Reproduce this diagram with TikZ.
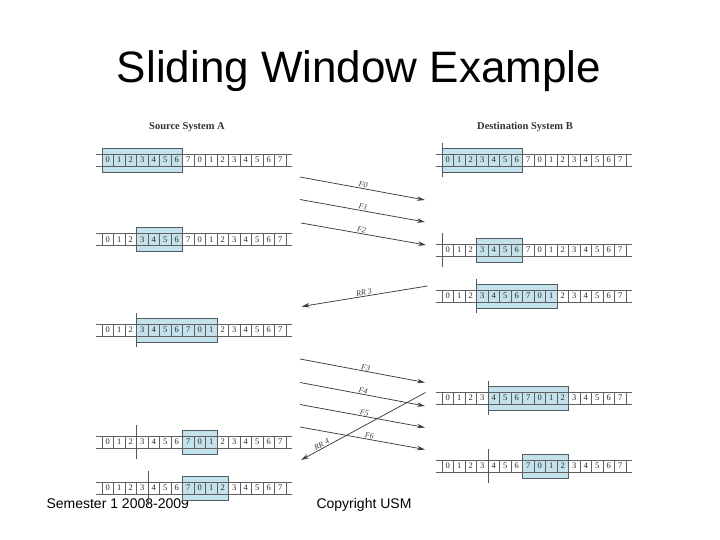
\documentclass[tikz,border=0pt]{standalone}
\usepackage{fontspec}
\setmainfont{Liberation Serif}
\newfontfamily\arialfont{Liberation Sans}
\usetikzlibrary{arrows.meta}
\definecolor{winfill}{RGB}{195,226,236}
\definecolor{boxgray}{RGB}{80,92,98}
\definecolor{linegray}{RGB}{95,95,95}
\definecolor{digitgray}{RGB}{40,40,40}
\definecolor{arrowgray}{RGB}{60,60,60}

\newcommand\seqstrip[3]{%
  \foreach \i in {0,...,15}{%
    \pgfmathtruncatemacro\dg{mod(\i,8)}%
    \draw[cellrule] ({#1+\i*11.5},{#2-6}) -- ({#1+\i*11.5},{#2+6});%
    \node[digitnode] (#3-\i) at ({#1+(\i+0.5)*11.5},#2) {\dg};%
  }%
  \draw[cellrule] ({#1+184},{#2-6}) -- ({#1+184},{#2+6});%
  \draw[striprule] ({#1-6},{#2-6}) -- ({#1+190},{#2-6});%
  \draw[striprule] ({#1-6},{#2+6}) -- ({#1+190},{#2+6});%
}
\newcommand\winrect[4]{%
  \draw[winfillbox] ({#1+#3*11.5},{#2-12}) rectangle ({#1+#4*11.5},{#2+12});%
}
\newcommand\winmark[3]{%
  \draw[winbar] ({#1+#3*11.5},{#2-17}) -- ({#1+#3*11.5},{#2+17});%
}

\begin{document}
\begin{tikzpicture}[x=1pt,y=-1pt,
  digitnode/.style={font=\fontsize{8.5}{9}\selectfont, text=digitgray, inner sep=0pt},
  cellrule/.style={draw=linegray, line width=0.6pt},
  striprule/.style={draw=linegray, line width=0.7pt},
  winfillbox/.style={fill=winfill, draw=boxgray, line width=0.8pt},
  winbar/.style={draw=boxgray, line width=0.8pt},
  msgarrow/.style={draw=arrowgray, line width=0.75pt, -{Stealth[length=8pt,width=4.5pt]}},
  msglabel/.style={font=\itshape\fontsize{8}{9}\selectfont, text=arrowgray, inner sep=0.8pt, sloped, above},
  heading/.style={font=\bfseries\fontsize{10.5}{12}\selectfont, text=black!80, anchor=base}]
\useasboundingbox (0,0) rectangle (720,540);

% title and footer
\node[font=\arialfont\fontsize{44}{50}\selectfont, anchor=base] (title) at (359,83) {Sliding Window Example};
\node[font=\arialfont\fontsize{14}{16}\selectfont, anchor=base west] (sem) at (43,508) {Semester 1 2008-2009};
\node[font=\arialfont\fontsize{14}{16}\selectfont, anchor=base west] (copy) at (313,508) {Copyright USM};

% headings
\node[heading] (srcA) at (187,130) {Source System A};
\node[heading] (dstB) at (525,130) {Destination System B};

% Source A rows
\winrect{102}{160}{0}{7}
\seqstrip{102}{160}{A1}
\winrect{102}{239.5}{3}{7}
\seqstrip{102}{239.5}{A2}
\winrect{102}{330}{3}{10}
\seqstrip{102}{330}{A3}
\winmark{102}{330}{3}
\winrect{102}{442}{7}{10}
\seqstrip{102}{442}{A4}
\winmark{102}{442}{3}
\winrect{102}{488}{7}{11}
\seqstrip{102}{488}{A5}
\winmark{102}{488}{4}

% Destination B rows
\winrect{442}{160}{0}{7}
\seqstrip{442}{160}{B1}
\winmark{442}{160}{0}
\winrect{442}{250}{3}{7}
\seqstrip{442}{250}{B2}
\winmark{442}{250}{0}
\winrect{442}{296}{3}{10}
\seqstrip{442}{296}{B3}
\winmark{442}{296}{3}
\winrect{442}{398}{4}{11}
\seqstrip{442}{398}{B4}
\winmark{442}{398}{4}
\winrect{442}{466}{7}{11}
\seqstrip{442}{466}{B5}
\winmark{442}{466}{4}

% frames and acknowledgements
\coordinate (F0a) at (300,177);   \coordinate (F0b) at (425,200);
\coordinate (F1a) at (300,199.5); \coordinate (F1b) at (425,222);
\coordinate (F2a) at (301,223);   \coordinate (F2b) at (426,245);
\coordinate (R3a) at (427.5,286); \coordinate (R3b) at (301.5,306.5);
\coordinate (F3a) at (300,359);   \coordinate (F3b) at (425,382.5);
\coordinate (F4a) at (300,382.5); \coordinate (F4b) at (425,406);
\coordinate (F5a) at (300,404.5); \coordinate (F5b) at (425,427.5);
\coordinate (F6a) at (300,427);   \coordinate (F6b) at (425,449.5);
\coordinate (R4a) at (425.5,392.5); \coordinate (R4b) at (301,460);

\draw[msgarrow] (F0a) -- node[msglabel, pos=0.5] (lF0) {F0} (F0b);
\draw[msgarrow] (F1a) -- node[msglabel, pos=0.5] (lF1) {F1} (F1b);
\draw[msgarrow] (F2a) -- node[msglabel, pos=0.48] (lF2) {F2} (F2b);
\draw[msgarrow] (R3a) -- node[msglabel, pos=0.5] (lR3) {RR 3} (R3b);
\draw[msgarrow] (F3a) -- node[msglabel, pos=0.52] (lF3) {F3} (F3b);
\draw[msgarrow] (F4a) -- node[msglabel, pos=0.5] (lF4) {F4} (F4b);
\draw[msgarrow] (F5a) -- node[msglabel, pos=0.51] (lF5) {F5} (F5b);
\draw[msgarrow] (F6a) -- node[msglabel, pos=0.55] (lF6) {F6} (F6b);
\draw[msgarrow] (R4a) -- node[msglabel, pos=0.82] (lR4) {RR 4} (R4b);
\end{tikzpicture}
\end{document}
